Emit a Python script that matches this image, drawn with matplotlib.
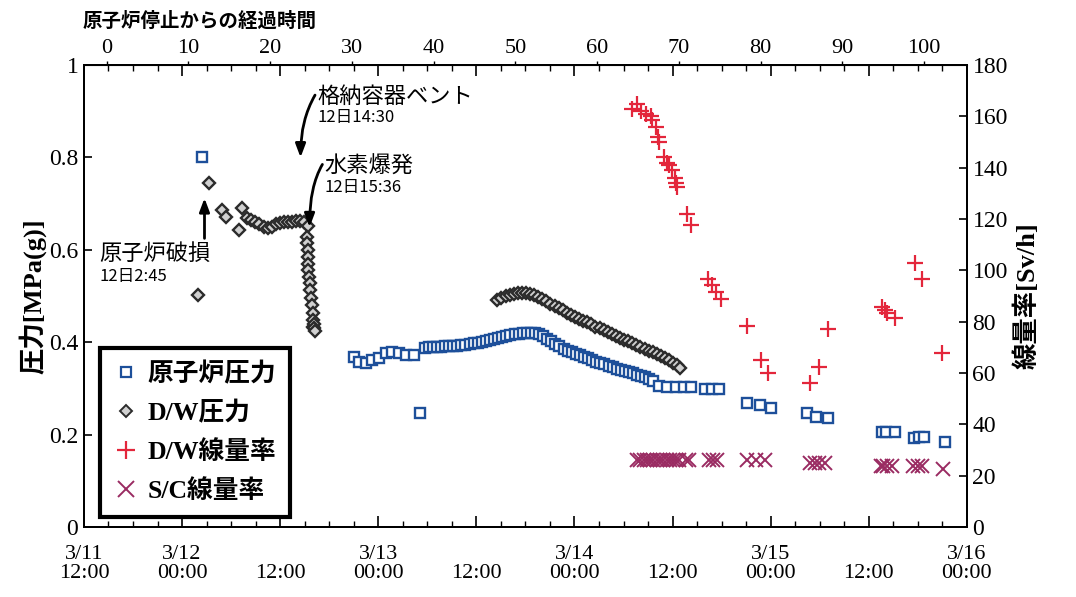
import matplotlib
matplotlib.use('Agg')
import matplotlib.pyplot as plt
from matplotlib.lines import Line2D

plt.rcParams['font.family'] = ['Liberation Serif', 'Noto Sans CJK JP']
SANS = ['Noto Sans CJK JP', 'DejaVu Sans']

# x = hours since reactor shutdown (3/11 14:46)
rpv_t = [11.7,
         30.3, 30.9, 31.7, 32.5, 33.3, 34.2, 34.9, 35.8, 36.6, 37.6, 38.4,
         38.9, 39.4, 39.9, 40.4, 40.9, 41.4, 41.9, 42.4, 42.9, 43.4, 43.9, 44.4,
         44.9, 45.4, 45.9, 46.4, 46.9, 47.4, 47.9, 48.4, 48.9, 49.4, 49.9, 50.4,
         50.9, 51.4, 51.9, 52.4, 52.9, 53.4, 53.9, 54.4, 54.9, 55.4, 55.9, 56.4,
         56.9, 57.4, 57.9, 58.4, 58.9, 59.4, 59.9, 60.4, 60.9, 61.4, 61.9, 62.4,
         62.9, 63.4, 63.9, 64.4, 64.9, 65.4, 65.9, 66.4, 66.9,
         67.6, 68.6, 69.6, 70.6, 71.5, 73.2, 74.1, 74.9,
         78.3, 79.9, 81.3, 85.7, 86.8, 88.2,
         94.8, 95.3, 96.4, 98.8, 99.4, 100.0, 102.5]
rpv_p = [0.80,
         0.368, 0.357, 0.355, 0.361, 0.366, 0.377, 0.379, 0.377, 0.373, 0.372, 0.247,
         0.388, 0.389, 0.389, 0.390, 0.390, 0.391, 0.391, 0.392, 0.393, 0.394, 0.395, 0.396,
         0.398, 0.399, 0.401, 0.403, 0.405, 0.407, 0.410, 0.412, 0.414, 0.416, 0.418, 0.419,
         0.420, 0.421, 0.421, 0.420, 0.417, 0.413, 0.408, 0.402, 0.396, 0.391, 0.386, 0.382,
         0.378, 0.375, 0.372, 0.369, 0.366, 0.362, 0.358, 0.355, 0.352, 0.349, 0.346, 0.343,
         0.341, 0.338, 0.335, 0.333, 0.330, 0.327, 0.324, 0.321, 0.316,
         0.306, 0.304, 0.303, 0.303, 0.303, 0.300, 0.300, 0.300,
         0.268, 0.264, 0.257, 0.247, 0.238, 0.236,
         0.206, 0.206, 0.206, 0.193, 0.195, 0.195, 0.184]

dw_t = [11.2, 12.5, 14.1, 14.6, 16.2, 16.6,
        17.2, 17.7, 18.2, 18.7, 19.2, 19.7, 20.2, 20.7, 21.2, 21.7, 22.2, 22.7,
        23.2, 23.7, 24.2, 24.6,
        24.5, 24.55, 24.6, 24.65, 24.7, 24.7, 24.8, 24.85, 24.9, 25.0, 25.1,
        25.3, 25.3, 25.3, 25.35, 25.4, 25.45,
        47.8, 48.3, 48.8, 49.3, 49.8, 50.3, 50.8, 51.3, 51.8, 52.3, 52.8, 53.3,
        53.8, 54.3, 54.8, 55.3, 55.8, 56.3, 56.8, 57.3, 57.8, 58.3, 58.8, 59.3,
        59.8, 60.3, 60.8, 61.3, 61.8, 62.3, 62.8, 63.3, 63.8, 64.3, 64.8, 65.3,
        65.8, 66.3, 66.8, 67.3, 67.8, 68.3, 68.8, 69.3, 69.8, 70.2]
dw_p = [0.502, 0.745, 0.686, 0.671, 0.643, 0.690,
        0.669, 0.665, 0.660, 0.655, 0.650, 0.647, 0.650, 0.655, 0.658, 0.660, 0.660, 0.660,
        0.662, 0.662, 0.660, 0.652,
        0.628, 0.615, 0.600, 0.584, 0.570, 0.556, 0.542, 0.528, 0.513, 0.496, 0.480,
        0.463, 0.448, 0.433, 0.440, 0.430, 0.425,
        0.491, 0.496, 0.500, 0.503, 0.505, 0.506, 0.506, 0.506, 0.505, 0.503, 0.499, 0.494,
        0.489, 0.484, 0.479, 0.474, 0.469, 0.464, 0.459, 0.455, 0.451, 0.447, 0.443, 0.439,
        0.434, 0.430, 0.426, 0.422, 0.418, 0.414, 0.410, 0.406, 0.402, 0.398, 0.394, 0.390,
        0.386, 0.382, 0.378, 0.374, 0.370, 0.366, 0.361, 0.356, 0.350, 0.345]

dwdose_t = [64.3, 64.9, 65.4, 66.0, 66.6, 66.7, 67.2, 67.4, 67.6, 68.2, 68.6, 68.8,
            69.2, 69.5, 69.7, 69.8, 71.0, 71.5, 73.6, 74.0, 74.5, 75.1, 78.3, 80.0,
            80.9, 86.1, 87.2, 88.3, 94.8, 95.2, 95.5, 96.4, 98.9, 99.7, 102.2]
dwdose_v = [163, 165, 162, 161, 160, 158.5, 156, 152, 150, 144, 142, 141,
            139, 136, 134, 132.5, 122, 117.6, 96.5, 94.5, 91.5, 89, 78.3, 65,
            60, 56, 62.3, 77, 85.7, 84.5, 83.4, 81.4, 103, 96.6, 68]

sc_t = [64.9, 65.3, 65.7, 66.1, 66.5, 66.9, 67.3, 67.7, 68.1, 68.5, 68.9, 69.3,
        69.7, 70.0, 70.9, 71.3,
        73.7, 74.2, 74.7, 78.3, 79.4, 80.5, 86.0, 86.6, 87.2, 87.9,
        94.7, 95.0, 95.4, 96.1, 98.7, 99.2, 99.7, 102.3]
sc_v = [26, 26, 26, 26, 26, 26, 26, 26, 26, 26, 26, 26,
        26, 26, 26, 26,
        26, 26, 26, 26, 26, 26, 25, 25, 25, 25,
        24, 24, 24, 24, 24, 24, 24, 22.5]

date_labels = ['3/11\n12:00', '3/12\n00:00', '\n12:00', '3/13\n00:00', '\n12:00',
               '3/14\n00:00', '\n12:00', '3/15\n00:00', '\n12:00', '3/16\n00:00']
hour_ticks = [0, 10, 20, 30, 40, 50, 60, 70, 80, 90, 100]

t0 = -2.767  # 3/11 12:00 relative to shutdown
date_pos = [t0 + 12 * i for i in range(len(date_labels))]

fig = plt.figure(figsize=(10.76, 5.97), dpi=100)
ax = fig.add_axes([0.078, 0.117, 0.8206, 0.774])
ax2 = ax.twinx()

blue = '#1d4f9a'
ax.plot(rpv_t, rpv_p, 's', ms=7, mfc='white', mec=blue, mew=1.7, ls='none')
ax.plot(dw_t, dw_p, 'D', ms=6, mfc='#d0d0d0', mec='#2b2b2b', mew=1.7, ls='none')
ax2.plot(dwdose_t, dwdose_v, '+', ms=11, mec='#e3263b', mew=1.6, ls='none')
ax2.plot(sc_t, sc_v, 'x', ms=10, mec='#9a2b62', mew=1.4, ls='none')

ax.set_xlim(t0, t0 + 108)
ax.set_ylim(0, 1)
ax2.set_ylim(0, 180)

ax.set_xticks(date_pos)
ax.set_xticklabels(date_labels, linespacing=1.0)
ax.set_xticks([t0 + 3 * i for i in range(37)], minor=True)
ax.tick_params(axis='x', which='major', direction='in', top=True, length=8, width=1.2,
               labelsize=16, pad=13)
ax.tick_params(axis='x', which='minor', direction='in', top=True, length=4, width=1.0)
ax.set_yticks([0, 0.2, 0.4, 0.6, 0.8, 1.0])
ax.set_yticklabels(['0', '0.2', '0.4', '0.6', '0.8', '1'])
ax.tick_params(axis='y', direction='in', length=6, width=1.2, labelsize=17, pad=4)
ax2.set_yticks(range(0, 181, 20))
ax2.tick_params(axis='y', direction='in', length=6, width=1.2, labelsize=17, pad=4)

sec = ax.secondary_xaxis('top')
sec.set_xticks(hour_ticks)
sec.tick_params(direction='out', length=3, width=1.0, labelsize=16, pad=2)

for a in (ax, ax2):
    for s in a.spines.values():
        s.set_linewidth(1.4)

ax.set_ylabel('圧力[MPa(g)]', fontsize=19, fontweight='bold', labelpad=2)
ax2.set_ylabel('線量率[Sv/h]', fontsize=19, fontweight='bold', labelpad=4)
fig.text(0.077, 0.965, '原子炉停止からの経過時間', fontsize=14, fontweight='bold',
         ha='left', va='center')

# event annotations
arrow_kw = dict(arrowstyle='-|>,head_length=0.8,head_width=0.3', color='black', lw=2,
                shrinkA=0, shrinkB=0)
ax.annotate('', xy=(23.73, 0.80), xytext=(25.5, 0.935),
            arrowprops=dict(connectionstyle='angle3,angleA=60,angleB=90', **arrow_kw))
ax.text(25.8, 0.933, '格納容器ベント', family=SANS, fontsize=16, ha='left', va='center')
ax.text(25.8, 0.886, '12日14:30', family=SANS, fontsize=12, ha='left', va='center')

ax.annotate('', xy=(24.83, 0.649), xytext=(26.4, 0.785),
            arrowprops=dict(connectionstyle='angle3,angleA=60,angleB=90', **arrow_kw))
ax.text(26.7, 0.781, '水素爆発', family=SANS, fontsize=16, ha='left', va='center')
ax.text(26.7, 0.734, '12日15:36', family=SANS, fontsize=12, ha='left', va='center')

ax.annotate('', xy=(11.98, 0.712), xytext=(11.98, 0.625),
            arrowprops=dict(**arrow_kw))
ax.text(-0.9, 0.593, '原子炉破損', family=SANS, fontsize=16, ha='left', va='center')
ax.text(-0.9, 0.543, '12日2:45', family=SANS, fontsize=12, ha='left', va='center')

handles = [
    Line2D([], [], ls='none', marker='s', ms=7, mfc='white', mec=blue, mew=1.6),
    Line2D([], [], ls='none', marker='D', ms=6, mfc='#d0d0d0', mec='#2b2b2b', mew=1.4),
    Line2D([], [], ls='none', marker='+', ms=13, mec='#e3263b', mew=1.6),
    Line2D([], [], ls='none', marker='x', ms=11, mec='#9a2b62', mew=1.4),
]
labels = ['原子炉圧力', 'D/W圧力', 'D/W線量率', 'S/C線量率']
leg = ax2.legend(handles, labels, loc='lower left', bbox_to_anchor=(0.018, 0.022),
                 borderaxespad=0, fancybox=False, framealpha=1, edgecolor='black',
                 handlelength=0.9, handletextpad=0.4, borderpad=0.55, labelspacing=0.58,
                 prop={'size': 18.5, 'weight': 'bold'})
leg.get_frame().set_linewidth(3)

fig.savefig('out.png', dpi=100)
